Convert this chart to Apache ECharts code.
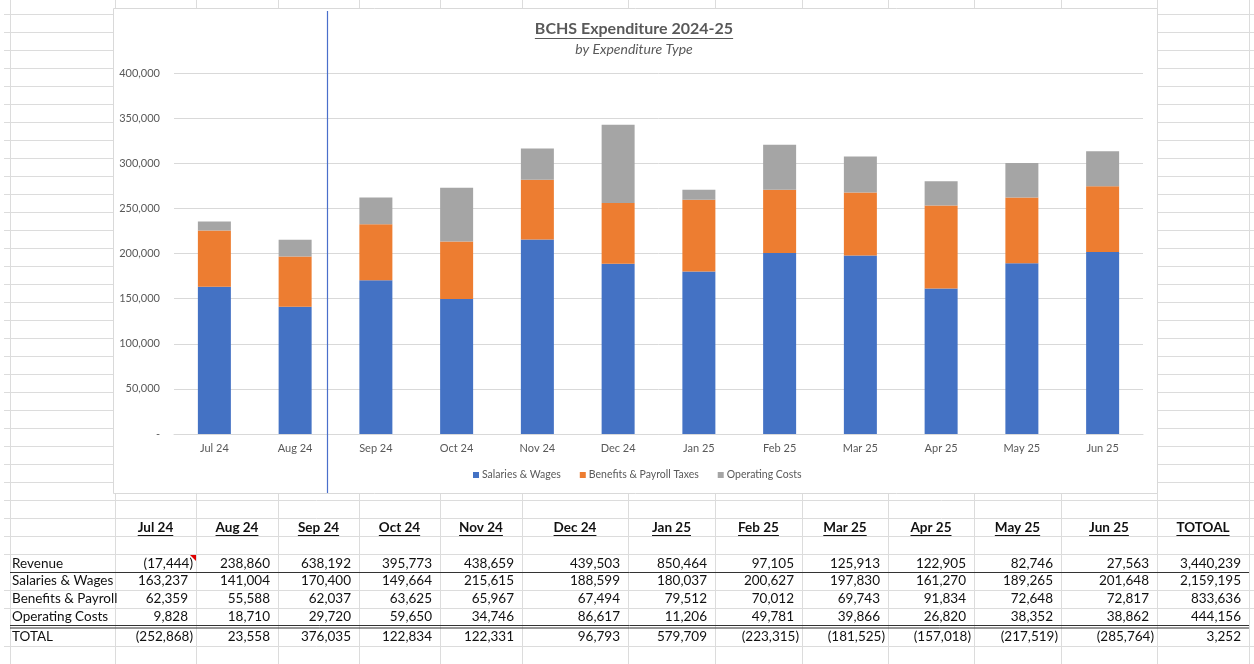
<!DOCTYPE html>
<html>
<head>
<meta charset="utf-8">
<script src="https://cdn.jsdelivr.net/npm/echarts@6/dist/echarts.min.js"></script>
<style>
html,body{margin:0;padding:0;background:#fff;}
#c{width:1254px;height:664px;}
</style>
</head>
<body>
<div id="c"></div>
<script>
// ---------- DATA ----------
const months = ['Jul 24','Aug 24','Sep 24','Oct 24','Nov 24','Dec 24','Jan 25','Feb 25','Mar 25','Apr 25','May 25','Jun 25'];
const seriesNames = ['Salaries & Wages','Benefits & Payroll Taxes','Operating Costs'];
const salaries  = [163237,141004,170400,149664,215615,188599,180037,200627,197830,161270,189265,201648];
const benefits  = [62359,55588,62037,63625,65967,67494,79512,70012,69743,91834,72648,72817];
const operating = [9828,18710,29720,59650,34746,86617,11206,49781,39866,26820,38352,38862];
const revenue   = [-17444,238860,638192,395773,438659,439503,850464,97105,125913,122905,82746,27563];
const netTotal  = [-252868,23558,376035,122834,122331,96793,579709,-223315,-181525,-157018,-217519,-285764];
const rowLabels = ['Revenue','Salaries & Wages','Benefits & Payroll','Operating Costs','TOTAL'];
const yearTotals = [3440239,2159195,833636,444156,3252];
const totalHeader = 'TOTOAL';
const chartTitle = 'BCHS Expenditure 2024-25';
const chartSubtitle = 'by Expenditure Type';

// ---------- LAYOUT ----------
const FONT = 'Lato, "Open Sans", sans-serif';
const colEdges = [10,115,196,278,359,440,522,628,715,802,888,974,1061,1157,1249];
const gridColor = '#DCDCDC';
const chartBox = {x:113, y:8, w:1044, h:485};

const mctx = document.createElement('canvas').getContext('2d');
function textW(t, font){ mctx.font = font; return mctx.measureText(t).width; }
function fmt(v){
  const s = Math.abs(v).toLocaleString('en-US');
  return v < 0 ? '(' + s + ')' : s;
}

const g = [];
// spreadsheet horizontal row lines
const rowLines = [];
for (let y = 14; y <= 518; y += 18) rowLines.push(y);
[536,554,590,608,646,664].forEach(y=>rowLines.push(y));
rowLines.forEach(y=>{
  g.push({type:'line', z:-2, silent:true, shape:{x1:4,y1:y+0.5,x2:1254,y2:y+0.5}, style:{stroke:gridColor,lineWidth:1}});
});
// vertical column lines
colEdges.forEach(x=>{
  g.push({type:'line', z:-2, silent:true, shape:{x1:x+0.5,y1:0,x2:x+0.5,y2:664}, style:{stroke:gridColor,lineWidth:1}});
});
// chart background
g.push({type:'rect', z:-1, silent:true, shape:{x:chartBox.x+0.5,y:chartBox.y+0.5,width:chartBox.w,height:chartBox.h}, style:{fill:'#fff',stroke:'#D9D9D9',lineWidth:1}});
// vertical blue line
g.push({type:'line', z:5, silent:true, shape:{x1:327.5,y1:11,x2:327.5,y2:493}, style:{stroke:'#4A6FCB',lineWidth:1.2}});

// title
const titleFont = 'bold 16px ' + FONT;
g.push({type:'text', z:5, silent:true, style:{text:chartTitle, x:634, y:29, textAlign:'center', textVerticalAlign:'middle', font:titleFont, fill:'#595959'}});
const tw = textW(chartTitle, titleFont);
g.push({type:'line', z:5, silent:true, shape:{x1:634-tw/2, y1:38.5, x2:634+tw/2, y2:38.5}, style:{stroke:'#595959', lineWidth:1}});
g.push({type:'text', z:5, silent:true, style:{text:chartSubtitle, x:634, y:49, textAlign:'center', textVerticalAlign:'middle', font:'italic 14px ' + FONT, fill:'#595959'}});

// table
const tFont = '13.5px ' + FONT;
const tFontB = 'bold 13.5px ' + FONT;
const headerY = 528;
const headers = months.concat([totalHeader]);
headers.forEach((h,i)=>{
  const cx = (colEdges[i+1] + colEdges[i+2]) / 2;
  g.push({type:'text', z:5, silent:true, style:{text:h, x:cx, y:headerY, textAlign:'center', textVerticalAlign:'middle', font:tFontB, fill:'#111'}});
  const w = textW(h, tFontB);
  g.push({type:'line', z:5, silent:true, shape:{x1:cx-w/2, y1:headerY+7.5, x2:cx+w/2, y2:headerY+7.5}, style:{stroke:'#111', lineWidth:1}});
});
const rowYs = [563.5, 581, 599, 616.5, 637];
const rowsData = [revenue, salaries, benefits, operating, netTotal];
rowLabels.forEach((lab,r)=>{
  g.push({type:'text', z:5, silent:true, style:{text:lab, x:12, y:rowYs[r], textAlign:'left', textVerticalAlign:'middle', font:tFont, fill:'#111'}});
  const vals = rowsData[r].concat([yearTotals[r]]);
  vals.forEach((v,i)=>{
    const right = colEdges[i+2];
    const xr = v < 0 ? right - 3 : right - 8;
    g.push({type:'text', z:5, silent:true, style:{text:fmt(v), x:xr, y:rowYs[r], textAlign:'right', textVerticalAlign:'middle', font:tFont, fill:'#111'}});
  });
});
// dark border under Revenue and double border above TOTAL
g.push({type:'line', z:6, silent:true, shape:{x1:10,y1:572.5,x2:1249,y2:572.5}, style:{stroke:'#333',lineWidth:1}});
g.push({type:'line', z:6, silent:true, shape:{x1:10,y1:625.5,x2:1249,y2:625.5}, style:{stroke:'#333',lineWidth:1}});
g.push({type:'line', z:6, silent:true, shape:{x1:10,y1:628,x2:1249,y2:628}, style:{stroke:'#333',lineWidth:1}});
// comment indicator
g.push({type:'polygon', z:6, silent:true, shape:{points:[[190,555],[196,555],[196,561]]}, style:{fill:'#E00000'}});

const chart = echarts.init(document.getElementById('c'), null, {renderer:'canvas'});
chart.setOption({
  backgroundColor:'#fff',
  animation:false,
  textStyle:{fontFamily:FONT},
  graphic:{elements:g},
  grid:{left:174, right:111, top:73, bottom:230, containLabel:false},
  legend:{
    data:seriesNames, left:473, top:469.5, padding:0, icon:'rect', itemWidth:6, itemHeight:6, itemGap:19,
    textStyle:{color:'#595959', fontSize:10.5, fontFamily:FONT, padding:[0,0,0,-2]}
  },
  xAxis:{
    type:'category', data:months,
    axisLine:{lineStyle:{color:'#D9D9D9'}},
    axisTick:{show:false},
    axisLabel:{color:'#595959', fontSize:11, margin:9, fontFamily:FONT}
  },
  yAxis:{
    type:'value', min:0, max:400000, interval:50000,
    axisLine:{show:false}, axisTick:{show:false},
    splitLine:{lineStyle:{color:'#D9D9D9'}},
    axisLabel:{color:'#595959', fontSize:11, margin:14, fontFamily:FONT,
      formatter:v=> v===0 ? '-' : v.toLocaleString('en-US')}
  },
  series:[
    {name:seriesNames[0], type:'bar', stack:'a', data:salaries, barWidth:33, itemStyle:{color:'#4472C4'}},
    {name:seriesNames[1], type:'bar', stack:'a', data:benefits, barWidth:33, itemStyle:{color:'#ED7D31'}},
    {name:seriesNames[2], type:'bar', stack:'a', data:operating, barWidth:33, itemStyle:{color:'#A5A5A5'}}
  ]
});
</script>
</body>
</html>
